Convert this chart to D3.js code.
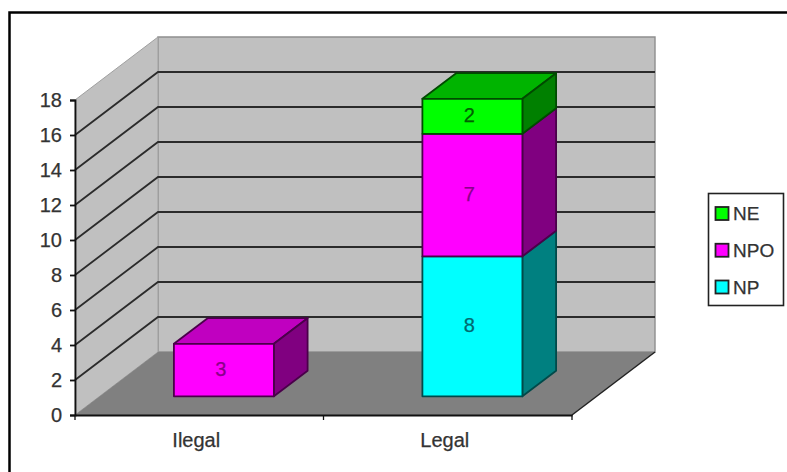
<!DOCTYPE html>
<html>
<head>
<meta charset="utf-8">
<script src="https://cdn.jsdelivr.net/npm/d3@7"></script>
<style>
  html, body { margin: 0; padding: 0; background: #fff; }
  svg { display: block; }
  text { font-family: "Liberation Sans", Arial, sans-serif; fill: #333; stroke: #333; stroke-width: 0.25px; }
</style>
</head>
<body>
<svg id="chart" width="787" height="472"></svg>
<script>
const categories = ["Ilegal", "Legal"];
const seriesNames = ["NP", "NPO", "NE"];
const seriesValues = {
  NP: [0, 8],
  NPO: [3, 7],
  NE: [0, 2]
};
const yTicks = [0, 2, 4, 6, 8, 10, 12, 14, 16, 18];
const frontColors = { NP: "#00ffff", NPO: "#ff00ff", NE: "#00ff00" };
const topColors = { NP: "#00cccc", NPO: "#c000c0", NE: "#00b400" };
const sideColors = { NP: "#008080", NPO: "#800080", NE: "#008000" };
const edgeColors = { NP: "#004a4a", NPO: "#4a004a", NE: "#004a00" };
const labelColors = { NP: "#006a70", NPO: "#8a008a", NE: "#006000" };
const legendOrder = ["NE", "NPO", "NP"];

const svg = d3.select("#chart");

const x = d3.scaleBand().domain(categories).range([75, 572]);
const y = d3.scaleLinear().domain([0, 18]).range([415, 100]);
// Depth axis: 0 is the front plane, 1 the back wall.
const depthX = d3.scaleLinear().domain([0, 1]).range([0, 83]);
const depthY = d3.scaleLinear().domain([0, 1]).range([0, -63]);

const pt = (px, value, d) => [px + depthX(d), y(value) + depthY(d)];
const poly = pts => pts.map(p => p.join(",")).join(" ");

// Chart frame, open towards the bottom and right of the page.
svg.append("path")
  .attr("d", "M9.5,472V12.5H787")
  .attr("fill", "none").attr("stroke", "#000").attr("stroke-width", 2.5);

const [xL, xR] = x.range();

// Walls and floor
svg.append("polygon")
  .attr("points", poly([pt(xL, 0, 1), pt(xR, 0, 1), pt(xR, 18, 1), pt(xL, 18, 1)]))
  .attr("fill", "#c0c0c0").attr("stroke", "#8e8e8e").attr("stroke-width", 1.4);
svg.append("polygon")
  .attr("points", poly([pt(xL, 0, 0), pt(xL, 0, 1), pt(xL, 18, 1), pt(xL, 18, 0)]))
  .attr("fill", "#c0c0c0").attr("stroke", "#a0a0a0").attr("stroke-width", 1);
svg.append("polygon")
  .attr("points", poly([pt(xL, 0, 0), pt(xR, 0, 0), pt(xR, 0, 1), pt(xL, 0, 1)]))
  .attr("fill", "#808080");

// Gridlines wrap from the axis across the side wall and along the back wall
svg.append("g").selectAll("polyline")
  .data(yTicks.filter(t => t > 0 && t < 18))
  .join("polyline")
  .attr("points", t => poly([pt(xL, t, 0), pt(xL, t, 1), pt(xR, t, 1)]))
  .attr("fill", "none").attr("stroke", "#2b2b2b").attr("stroke-width", 1.8);

// Value axis
const yAxis = svg.append("g")
  .attr("transform", `translate(${xL},0)`)
  .call(d3.axisLeft(y).tickValues(yTicks).tickSize(5).tickPadding(8));
yAxis.select(".domain").attr("stroke", "#111").attr("stroke-width", 1.8);
yAxis.selectAll("line").attr("stroke", "#111").attr("stroke-width", 1.8);
yAxis.selectAll("text").attr("font-size", 20).style("font-family", null);

// Floor edges and category axis
svg.append("line")
  .attr("x1", xR).attr("y1", y(0))
  .attr("x2", pt(xR, 0, 1)[0]).attr("y2", pt(xR, 0, 1)[1])
  .attr("stroke", "#222").attr("stroke-width", 1.5);
const xAxis = svg.append("g")
  .attr("transform", `translate(0,${y(0)})`)
  .call(d3.axisBottom(x).tickSize(0).tickPadding(18));
xAxis.select(".domain").attr("stroke", "#111").attr("stroke-width", 1.8);
xAxis.selectAll("text").attr("font-size", 20).attr("dx", -3).style("font-family", null);
xAxis.selectAll(".boundary")
  .data([xL, (xL + xR) / 2, xR])
  .join("line")
  .attr("class", "boundary")
  .attr("x1", d => d).attr("x2", d => d)
  .attr("y1", 0).attr("y2", 5)
  .attr("stroke", "#111").attr("stroke-width", 1.3);

// Stacked 3D boxes
const barWidth = 100;
const zNear = 0.297, zFar = 0.703;
const stackGen = d3.stack().keys(seriesNames)
  .value((row, key) => row[key]);
const rows = categories.map((c, i) => {
  const r = { category: c };
  seriesNames.forEach(s => { r[s] = seriesValues[s][i]; });
  return r;
});
const layers = stackGen(rows);

const barsG = svg.append("g");
const labels = [];
categories.forEach((c, ci) => {
  const left = x(c) + (x.bandwidth() - barWidth) / 2;
  const right = left + barWidth;
  const visible = layers.filter(l => l[ci][1] > l[ci][0]);
  visible.forEach((l, li) => {
    const [v0, v1] = l[ci];
    const g = barsG.append("g")
      .attr("stroke", edgeColors[l.key])
      .attr("stroke-width", 1.8)
      .attr("stroke-linejoin", "round");
    // Only the uppermost segment of a stack shows a top face
    if (li === visible.length - 1) {
      g.append("polygon")
        .attr("points", poly([pt(left, v1, zNear), pt(right, v1, zNear), pt(right, v1, zFar), pt(left, v1, zFar)]))
        .attr("fill", topColors[l.key]);
    }
    g.append("polygon")
      .attr("points", poly([pt(right, v0, zNear), pt(right, v0, zFar), pt(right, v1, zFar), pt(right, v1, zNear)]))
      .attr("fill", sideColors[l.key]);
    g.append("polygon")
      .attr("points", poly([pt(left, v0, zNear), pt(right, v0, zNear), pt(right, v1, zNear), pt(left, v1, zNear)]))
      .attr("fill", frontColors[l.key]);
    labels.push({
      text: v1 - v0,
      key: l.key,
      pos: pt((left + right) / 2, (v0 + v1) / 2, zNear)
    });
  });
});

// Value labels sit on the front faces, above every box
svg.append("g").selectAll("text")
  .data(labels)
  .join("text")
  .attr("x", d => d.pos[0] - 3)
  .attr("y", d => d.pos[1] - 1)
  .attr("text-anchor", "middle")
  .attr("dominant-baseline", "central")
  .attr("font-size", 20)
  .style("fill", d => labelColors[d.key])
  .style("stroke", d => labelColors[d.key])
  .text(d => d.text);

// Legend
const legendRowY = d3.scalePoint().domain(legendOrder).range([213.5, 287]);
const legend = svg.append("g");
legend.append("rect")
  .attr("x", 708.5).attr("y", 193.5).attr("width", 75).attr("height", 112)
  .attr("fill", "#fff").attr("stroke", "#222").attr("stroke-width", 1.6);
const legendRows = legend.selectAll("g.row").data(legendOrder).join("g")
  .attr("class", "row")
  .attr("transform", d => `translate(0,${legendRowY(d)})`);
legendRows.append("rect")
  .attr("x", 715.5).attr("y", -6.5).attr("width", 13).attr("height", 13)
  .attr("fill", d => frontColors[d])
  .attr("stroke", "#222").attr("stroke-width", 1.8);
legendRows.append("text")
  .attr("x", 733).attr("dominant-baseline", "central")
  .attr("font-size", 19)
  .text(d => d);
</script>
</body>
</html>
